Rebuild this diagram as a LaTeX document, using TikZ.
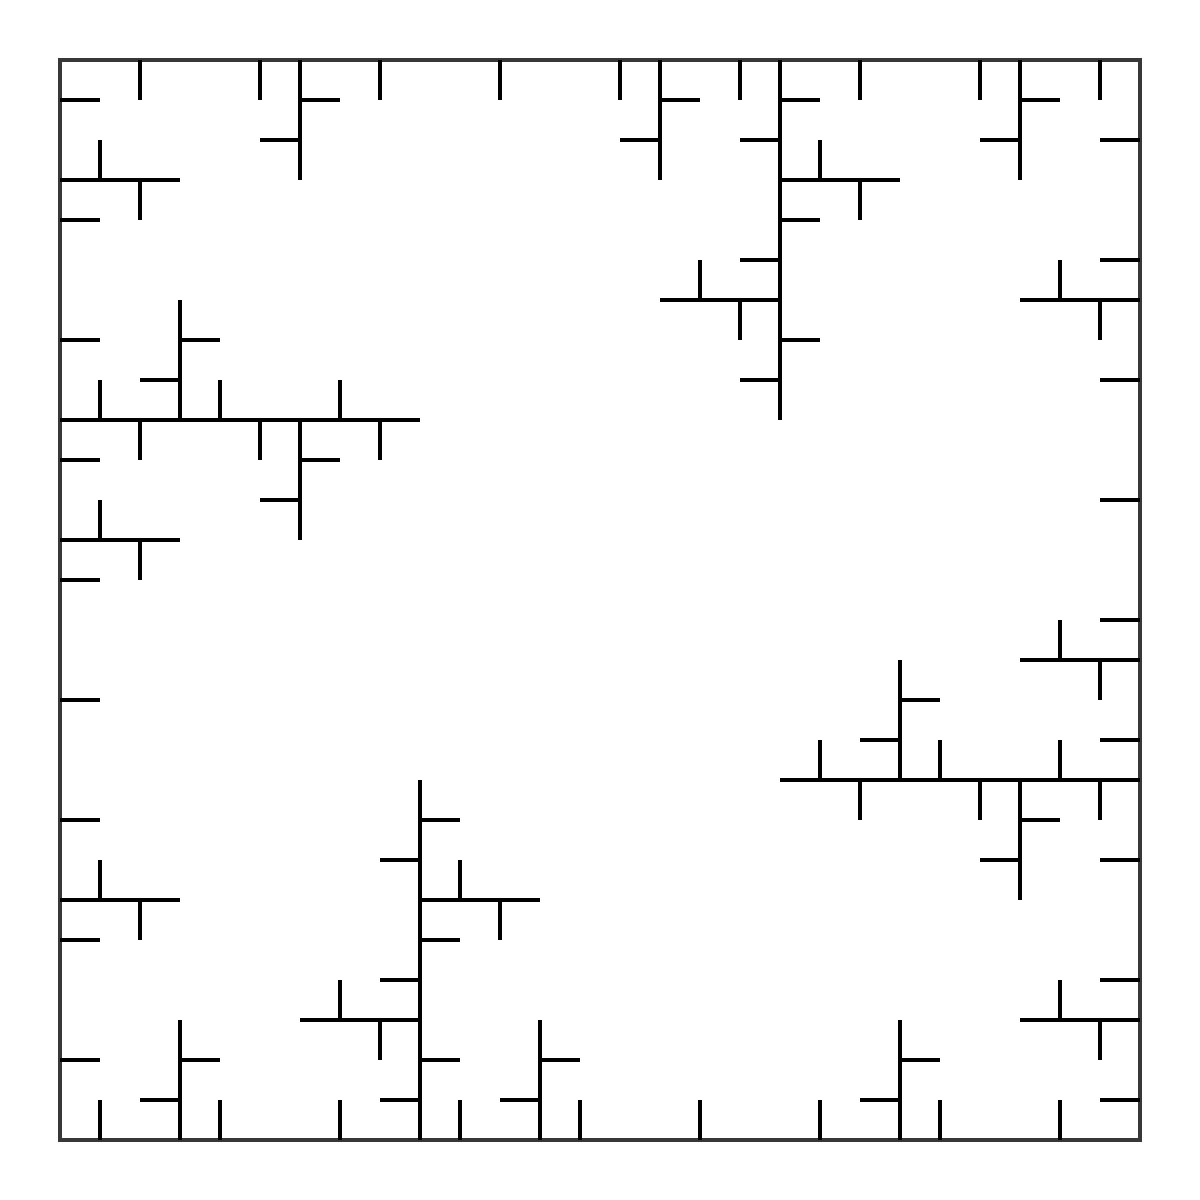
\documentclass[tikz,border=0pt]{standalone}
\begin{document}
\begin{tikzpicture}[x=1cm, y=-1cm,
    marco/.style={line width=2.6pt, black!78},
    pared/.style={line width=2.4pt, black}]
    \useasboundingbox (-1.5,-1.5) rectangle (28.5,28.5);

    % Dibujar el cuadrado exterior
    \draw[marco] (0,0) rectangle (27,27);

    % Bloque superior izquierdo
    \draw[pared] (0,1) -- (1,1) (2,0) -- (2,1) (5,0) -- (5,1) (6,0) -- (6,3)
        (6,1) -- (7,1) (5,2) -- (6,2) (8,0) -- (8,1) (11,0) -- (11,1)
        (1,2) -- (1,3) (0,3) -- (3,3) (2,3) -- (2,4) (0,4) -- (1,4);
    \draw[pared] (0,7) -- (1,7) (3,6) -- (3,9) (3,7) -- (4,7) (2,8) -- (3,8)
        (1,8) -- (1,9) (4,8) -- (4,9) (7,8) -- (7,9) (0,9) -- (9,9)
        (2,9) -- (2,10) (5,9) -- (5,10) (6,9) -- (6,12) (6,10) -- (7,10)
        (5,11) -- (6,11) (8,9) -- (8,10) (0,10) -- (1,10) (1,11) -- (1,12)
        (0,12) -- (3,12) (2,12) -- (2,13) (0,13) -- (1,13) (0,16) -- (1,16);

    % Bloque superior central
    \draw[pared] (14,0) -- (14,1) (15,0) -- (15,3) (15,1) -- (16,1) (14,2) -- (15,2)
        (17,0) -- (17,1) (18,0) -- (18,9) (18,1) -- (19,1) (17,2) -- (18,2)
        (19,2) -- (19,3) (18,3) -- (21,3) (20,3) -- (20,4) (18,4) -- (19,4)
        (17,5) -- (18,5) (16,5) -- (16,6) (15,6) -- (18,6) (17,6) -- (17,7)
        (18,7) -- (19,7) (17,8) -- (18,8);

    % Bloque superior derecho
    \draw[pared] (20,0) -- (20,1) (23,0) -- (23,1) (24,0) -- (24,3) (24,1) -- (25,1)
        (23,2) -- (24,2) (26,0) -- (26,1) (26,2) -- (27,2) (26,5) -- (27,5)
        (25,5) -- (25,6) (24,6) -- (27,6) (26,6) -- (26,7) (26,8) -- (27,8)
        (26,11) -- (27,11) (26,14) -- (27,14) (25,14) -- (25,15) (24,15) -- (27,15)
        (26,15) -- (26,16);

    % Bloque derecho central
    \draw[pared] (21,15) -- (21,18) (21,16) -- (22,16) (20,17) -- (21,17)
        (19,17) -- (19,18) (22,17) -- (22,18) (25,17) -- (25,18) (26,17) -- (27,17)
        (18,18) -- (27,18) (20,18) -- (20,19) (23,18) -- (23,19) (24,18) -- (24,21)
        (24,19) -- (25,19) (23,20) -- (24,20) (26,18) -- (26,19) (26,20) -- (27,20)
        (26,23) -- (27,23) (25,23) -- (25,24) (24,24) -- (27,24) (26,24) -- (26,25)
        (26,26) -- (27,26);

    % Bloque inferior derecho
    \draw[pared] (21,24) -- (21,27) (21,25) -- (22,25) (20,26) -- (21,26)
        (19,26) -- (19,27) (22,26) -- (22,27) (25,26) -- (25,27)
        (16,26) -- (16,27) (13,26) -- (13,27);

    % Bloque inferior central
    \draw[pared] (12,24) -- (12,27) (12,25) -- (13,25) (11,26) -- (12,26)
        (10,26) -- (10,27) (9,18) -- (9,27) (9,19) -- (10,19) (8,20) -- (9,20)
        (10,20) -- (10,21) (9,21) -- (12,21) (11,21) -- (11,22) (9,22) -- (10,22)
        (8,23) -- (9,23) (7,23) -- (7,24) (6,24) -- (9,24) (8,24) -- (8,25)
        (9,25) -- (10,25) (8,26) -- (9,26) (7,26) -- (7,27);

    % Bloque inferior izquierdo
    \draw[pared] (0,19) -- (1,19) (1,20) -- (1,21) (0,21) -- (3,21) (2,21) -- (2,22)
        (0,22) -- (1,22) (0,25) -- (1,25) (3,24) -- (3,27) (3,25) -- (4,25)
        (2,26) -- (3,26) (1,26) -- (1,27) (4,26) -- (4,27);
  \end{tikzpicture}
\end{document}
